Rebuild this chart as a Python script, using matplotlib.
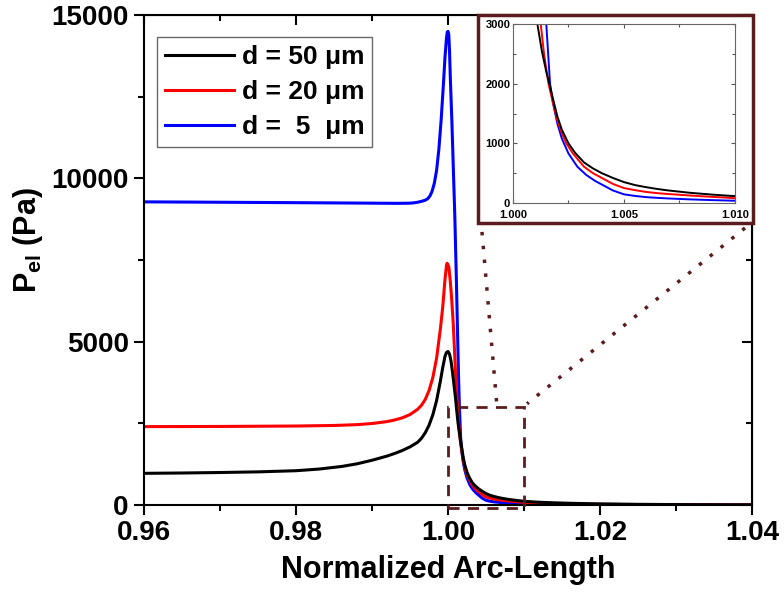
#!/usr/bin/env python

import numpy as np
import matplotlib
matplotlib.use('Agg')
import matplotlib.pyplot as plt
from matplotlib.patches import Rectangle
from matplotlib.ticker import MultipleLocator, FormatStrFormatter

matplotlib.rcParams['font.family'] = 'Liberation Sans'
matplotlib.rcParams['font.weight'] = 'bold'
matplotlib.rcParams['mathtext.fontset'] = 'custom'
matplotlib.rcParams['mathtext.rm'] = 'Liberation Sans:bold'
matplotlib.rcParams['mathtext.it'] = 'Liberation Sans:bold'
matplotlib.rcParams['mathtext.bf'] = 'Liberation Sans:bold'
matplotlib.rcParams['mathtext.default'] = 'regular'

# values
x_d5 = [0.960, 0.970, 0.980, 0.990, 0.993, 0.994, 0.995, 0.9955, 0.996, 0.9965,
        0.997, 0.9973, 0.9976, 0.9979, 0.9982, 0.9985, 0.9988, 0.9991, 0.9994, 0.9996,
        0.9998, 0.9999, 1.0000, 1.0001, 1.0002, 1.0003, 1.0005, 1.0007, 1.0009, 1.0011,
        1.0013, 1.0014, 1.0015, 1.00167, 1.0018, 1.0020, 1.0022, 1.0025, 1.0029, 1.0033,
        1.0037, 1.0040, 1.0045, 1.0050, 1.0055, 1.0060, 1.0065, 1.0070, 1.0075, 1.0080,
        1.0090, 1.0100, 1.0110, 1.0120, 1.0140, 1.0160, 1.0180, 1.0200, 1.0250, 1.0300,
        1.0400]
p_d5 = [9280, 9268, 9255, 9240, 9235, 9236, 9240, 9250, 9268, 9295,
        9330, 9370, 9450, 9600, 9850, 10250, 10900, 11800, 12900, 13700,
        14300, 14470, 14500, 14400, 13900, 13100, 11800, 10300, 8800, 6900,
        4800, 3800, 3000, 2000, 1680, 1330, 1080, 830, 608, 470,
        370, 310, 210, 145, 118, 98, 86, 76, 68, 60,
        48, 38, 31, 26, 19, 14, 11, 8, 4, 2,
        1]

x_d20 = [0.960, 0.970, 0.980, 0.985, 0.988, 0.990, 0.992, 0.993, 0.994, 0.995,
         0.996, 0.9965, 0.997, 0.9975, 0.998, 0.9985, 0.999, 0.9993, 0.9996, 0.9998,
         0.99987, 1.0001, 1.0003, 1.0005, 1.0007, 1.0009, 1.0011, 1.00125, 1.0014, 1.0016,
         1.0018, 1.0020, 1.0022, 1.0024, 1.0027, 1.0032, 1.0036, 1.0040, 1.0045, 1.0050,
         1.0055, 1.0060, 1.0065, 1.0070, 1.0075, 1.0080, 1.0085, 1.0090, 1.0095, 1.0100,
         1.0110, 1.0120, 1.0140, 1.0160, 1.0180, 1.0200, 1.0250, 1.0300, 1.0400]
p_d20 = [2400, 2405, 2418, 2435, 2460, 2495, 2555, 2605, 2670, 2770,
         2930, 3050, 3230, 3500, 3900, 4500, 5400, 6050, 6900, 7330,
         7400, 7300, 6850, 6250, 5500, 4500, 3550, 3000, 2500, 2000,
         1680, 1380, 1170, 1000, 830, 608, 500, 420, 320, 250,
         215, 185, 165, 150, 138, 125, 113, 102, 92, 80,
         68, 58, 44, 34, 27, 21, 12, 7, 3]

x_d50 = [0.960, 0.965, 0.970, 0.975, 0.980, 0.983, 0.986, 0.988, 0.990, 0.992,
         0.993, 0.994, 0.995, 0.996, 0.9965, 0.997, 0.9975, 0.998, 0.9985, 0.999,
         0.9993, 0.9996, 0.9998, 1.0000, 1.0002, 1.0004, 1.0006, 1.0008, 1.0010, 1.0011,
         1.0013, 1.0015, 1.00164, 1.0018, 1.0020, 1.0022, 1.0025, 1.0028, 1.0032, 1.0036,
         1.0040, 1.0045, 1.0050, 1.0055, 1.0060, 1.0065, 1.0070, 1.0075, 1.0080, 1.0085,
         1.0090, 1.0095, 1.0100, 1.0110, 1.0120, 1.0140, 1.0160, 1.0180, 1.0200, 1.0250,
         1.0300, 1.0350, 1.0400]
p_d50 = [970, 980, 995, 1015, 1050, 1100, 1180, 1260, 1370, 1500,
         1580, 1670, 1780, 1920, 2040, 2210, 2440, 2760, 3200, 3800,
         4200, 4550, 4670, 4700, 4620, 4400, 4050, 3650, 3250, 3000,
         2550, 2200, 2000, 1750, 1450, 1230, 1000, 840, 680, 580,
         500, 420, 350, 300, 265, 235, 210, 190, 170, 155,
         140, 127, 115, 98, 85, 67, 53, 43, 35, 21,
         13, 8, 5]

labels = ['d = 50 \u03bcm', 'd = 20 \u03bcm', 'd =  5  \u03bcm']
colors = ['black', '#ff0000', '#0000ff']
brown = '#5c1c1e'

# zoom box and connector ends (data coords of main axes)
box_x0, box_x1, box_y0, box_y1 = 1.000, 1.010, -100, 3000
link1 = ([1.00447, 1.00645], [8360, 3000])
link2 = ([1.03908, 1.0104], [8480, 3100])

fig = plt.figure(figsize=(7.84, 6.02), dpi=100)
ax = fig.add_axes([0.1837, 0.1611, 0.7755, 0.814])

series = [(x_d50, p_d50), (x_d20, p_d20), (x_d5, p_d5)]
handles = [None] * 3
for i in [2, 1, 0]:
    xs, ps = series[i]
    handles[i], = ax.plot(xs, ps, color=colors[i], linewidth=2.2, label=labels[i])

ax.set_xlim(0.96, 1.04)
ax.set_ylim(0, 15000)
ax.xaxis.set_major_locator(MultipleLocator(0.02))
ax.xaxis.set_minor_locator(MultipleLocator(0.01))
ax.xaxis.set_major_formatter(FormatStrFormatter('%.2f'))
ax.yaxis.set_major_locator(MultipleLocator(5000))
ax.yaxis.set_minor_locator(MultipleLocator(2500))
ax.tick_params(which='both', direction='out', width=1.5, labelsize=20, pad=4)
ax.tick_params(which='major', length=7)
ax.tick_params(which='minor', length=4)
for s in ax.spines.values():
    s.set_linewidth(1.5)

top = ax.secondary_xaxis('top')
top.xaxis.set_major_locator(MultipleLocator(0.02))
top.xaxis.set_minor_locator(MultipleLocator(0.01))
top.tick_params(which='both', direction='in', width=1.5, labeltop=False)
top.tick_params(which='major', length=7)
top.tick_params(which='minor', length=4)
right = ax.secondary_yaxis('right')
right.yaxis.set_major_locator(MultipleLocator(5000))
right.yaxis.set_minor_locator(MultipleLocator(2500))
right.tick_params(which='both', direction='in', width=1.5, labelright=False)
right.tick_params(which='major', length=7)
right.tick_params(which='minor', length=4)

ax.set_xlabel('Normalized Arc-Length', fontsize=22, fontweight='bold', labelpad=6)
ax.set_ylabel('P$_{el}$ (Pa)', fontsize=22, fontweight='bold')
ax.yaxis.set_label_coords(-0.163, 0.54)

leg = ax.legend(handles=handles, loc='upper left', bbox_to_anchor=(0.022, 0.955),
                fontsize=19, frameon=True, fancybox=False, handlelength=2.6,
                handletextpad=0.3, borderpad=0.3, labelspacing=0.42, borderaxespad=0)
leg.get_frame().set_edgecolor('#444444')
leg.get_frame().set_linewidth(1.0)

# dashed zoom box and dotted connectors
ax.add_patch(Rectangle((box_x0, box_y0), box_x1 - box_x0, box_y1 - box_y0, fill=False,
                       edgecolor=brown, linestyle=(0, (4, 3)), linewidth=2.0,
                       clip_on=False, zorder=5))
ax.plot(link1[0], link1[1], color=brown, linestyle=(0, (1, 3)), linewidth=2.5, zorder=5)
ax.plot(link2[0], link2[1], color=brown, linestyle=(0, (1, 3)), linewidth=2.5, zorder=5)

# frame behind the inset
fig.patches.append(Rectangle((478 / 784, 1 - 223 / 602), 275 / 784, 208 / 602,
                             transform=fig.transFigure, facecolor='white',
                             edgecolor=brown, linewidth=2.5, zorder=3))

ins = fig.add_axes([0.6543, 0.6628, 0.2832, 0.2973])
ins.set_zorder(4)
for i in [2, 1, 0]:
    xs, ps = series[i]
    ins.plot(xs, ps, color=colors[i], linewidth=1.4)
ins.set_xlim(1.000, 1.010)
ins.set_ylim(0, 3000)
ins.xaxis.set_major_locator(MultipleLocator(0.005))
ins.xaxis.set_minor_locator(MultipleLocator(0.0025))
ins.xaxis.set_major_formatter(FormatStrFormatter('%.3f'))
ins.yaxis.set_major_locator(MultipleLocator(1000))
ins.yaxis.set_minor_locator(MultipleLocator(500))
ins.tick_params(which='both', direction='in', top=True, right=True, labelsize=8,
                color='#555555', width=0.8, pad=2)
ins.tick_params(axis='x', pad=5)
ins.tick_params(which='major', length=3)
ins.tick_params(which='minor', length=2)
for s in ins.spines.values():
    s.set_color('#666666')
    s.set_linewidth(0.8)

plt.savefig('out.png', dpi=100)
